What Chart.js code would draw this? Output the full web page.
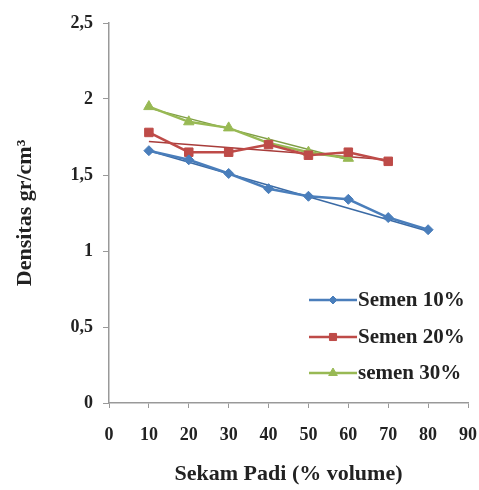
<!DOCTYPE html>
<html>
<head>
<meta charset="utf-8">
<script src="https://cdn.jsdelivr.net/npm/chart.js@4"></script>
<style>
  html, body { margin: 0; padding: 0; background: #fff; }
  #chart { display: block; }
</style>
</head>
<body>
<canvas id="chart" width="479" height="490"></canvas>
<script>
const sekamPadi = [10, 20, 30, 40, 50, 60, 70, 80];
const semen10 = [1.66, 1.60, 1.51, 1.41, 1.36, 1.34, 1.22, 1.14];
const semen20 = [1.78, 1.65, 1.65, 1.70, 1.63, 1.65, 1.59];
const semen30 = [1.95, 1.85, 1.81, 1.71, 1.65, 1.61];

// trend line ends
const trendX10 = [10, 80];
const trend10 = [1.66, 1.13];
const trendX20 = [10, 70];
const trend20 = [1.72, 1.60];
const trendX30 = [10, 60];
const trend30 = [1.94, 1.60];

const labels = ["Semen 10%", "Semen 20%", "semen 30%"];
const xTicks = [0, 10, 20, 30, 40, 50, 60, 70, 80, 90];
const yTicks = [0, 0.5, 1, 1.5, 2, 2.5];

const blue = "#4a7ebb";
const red = "#be4b48";
const green = "#98b954";
const serif = "'Liberation Serif', 'Times New Roman', serif";

const toPoints = (xs, ys) => ys.map((y, i) => ({ x: xs[i], y: y }));

function series(label, xs, ys, color, style, radius) {
  return {
    label: label,
    data: toPoints(xs, ys),
    borderColor: color,
    backgroundColor: color,
    borderWidth: 2.5,
    pointStyle: style,
    pointRadius: radius,
    pointBorderWidth: 1,
    tension: 0,
  };
}

function trend(xs, ys, color) {
  return {
    label: "trend",
    isTrend: true,
    data: toPoints(xs, ys),
    borderColor: color,
    borderWidth: 1.5,
    pointRadius: 0,
    tension: 0,
  };
}

// legend sits inside the plot, bottom right
const insideLegend = {
  id: "insideLegend",
  afterDraw(chart) {
    const ctx = chart.ctx;
    const rows = [300, 337, 373];
    chart.data.datasets
      .filter((d) => !d.isTrend)
      .forEach((d, i) => {
        const y = rows[i];
        ctx.save();
        ctx.strokeStyle = d.borderColor;
        ctx.lineWidth = 2.5;
        ctx.beginPath();
        ctx.moveTo(309, y);
        ctx.lineTo(357, y);
        ctx.stroke();
        ctx.fillStyle = d.backgroundColor;
        ctx.lineWidth = 1;
        Chart.helpers.drawPoint(
          ctx,
          { pointStyle: d.pointStyle, radius: d.pointRadius - 1, rotation: 0, borderWidth: 1 },
          333,
          y
        );
        ctx.fillStyle = "#222";
        ctx.font = "bold 21px " + serif;
        ctx.textBaseline = "middle";
        ctx.textAlign = "left";
        ctx.fillText(d.label, 358, y + 1);
        ctx.restore();
      });
  },
};

const tickFont = { family: serif, size: 18, weight: "bold" };
const titleFont = { family: serif, size: 22, weight: "bold" };

new Chart(document.getElementById("chart"), {
  type: "line",
  data: {
    datasets: [
      series(labels[0], sekamPadi, semen10, blue, "rectRot", 5),
      series(labels[1], sekamPadi, semen20, red, "rect", 6),
      series(labels[2], sekamPadi, semen30, green, "triangle", 6),
      trend(trendX10, trend10, "#3a6aa5"),
      trend(trendX20, trend20, "#a83c3a"),
      trend(trendX30, trend30, "#7f9e44"),
    ],
  },
  options: {
    responsive: false,
    animation: false,
    layout: { padding: { top: 23, right: 0, left: 0, bottom: 0 } },
    plugins: {
      legend: { display: false },
      tooltip: { enabled: false },
    },
    scales: {
      x: {
        type: "linear",
        min: 0,
        max: 90,
        afterBuildTicks: (scale) => {
          scale.ticks = xTicks.map((v) => ({ value: v }));
        },
        afterFit: (scale) => {
          scale.height = 87;
          scale.paddingRight = 11;
        },
        ticks: { font: tickFont, color: "#222", padding: 17 },
        grid: { drawOnChartArea: false, drawTicks: true, tickLength: 5, color: "#999" },
        border: { color: "#999", width: 1.5 },
        title: {
          display: true,
          text: "Sekam Padi (% volume)",
          font: titleFont,
          color: "#222",
          padding: { top: 0, bottom: 2 },
        },
      },
      y: {
        min: 0,
        max: 2.5,
        afterBuildTicks: (scale) => {
          scale.ticks = yTicks.map((v) => ({ value: v }));
        },
        afterFit: (scale) => {
          scale.width = 109;
        },
        ticks: {
          font: tickFont,
          color: "#222",
          padding: 10,
          callback: (v) => String(v).replace(".", ","),
        },
        grid: { drawOnChartArea: false, drawTicks: true, tickLength: 6, color: "#999" },
        border: { color: "#999", width: 1.5 },
        title: {
          display: true,
          text: "Densitas gr/cm³",
          font: titleFont,
          color: "#222",
          padding: { top: 12, bottom: 0 },
        },
      },
    },
  },
  plugins: [insideLegend],
});
</script>
</body>
</html>
